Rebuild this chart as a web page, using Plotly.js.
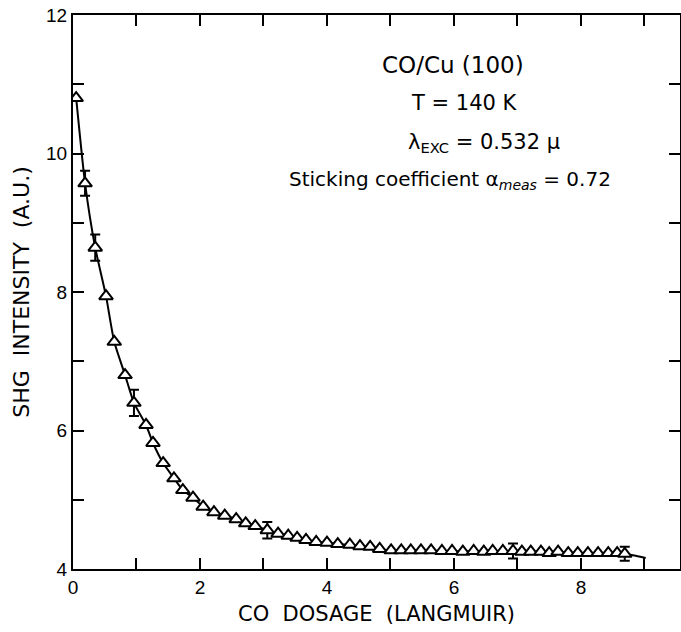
<!DOCTYPE html>
<html>
<head>
<meta charset="utf-8">
<script src="https://cdn.plot.ly/plotly-3.0.1.min.js"></script>
<style>
html,body{margin:0;padding:0;background:#fff;}
#chart{width:681px;height:632px;}
</style>
</head>
<body>
<div id="chart"></div>
<script>
// CO dosage (Langmuir) and SHG intensity (A.U.)
var dosage = [0.05,0.19,0.35,0.52,0.65,0.82,0.96,1.15,1.26,1.42,1.59,1.73,1.89,2.05,2.22,2.39,2.57,2.72,2.87,3.06,3.23,3.39,3.53,3.67,3.83,4.00,4.17,4.36,4.52,4.68,4.83,5.01,5.17,5.32,5.48,5.64,5.81,5.97,6.14,6.31,6.47,6.61,6.77,6.93,7.07,7.21,7.37,7.50,7.64,7.80,7.95,8.11,8.27,8.43,8.57,8.69];
var intensity = [10.80,9.57,8.64,7.94,7.28,6.80,6.40,6.08,5.82,5.53,5.31,5.14,5.03,4.90,4.82,4.77,4.72,4.66,4.62,4.56,4.51,4.48,4.45,4.42,4.39,4.38,4.36,4.35,4.33,4.32,4.29,4.27,4.27,4.27,4.27,4.27,4.26,4.26,4.25,4.26,4.25,4.26,4.26,4.26,4.25,4.25,4.25,4.23,4.25,4.23,4.23,4.23,4.23,4.23,4.23,4.22];

// points carrying error bars
var errDosage = [0.19,0.35,0.96,3.06,6.93,8.69];
var errIntensity = [9.57,8.64,6.40,4.56,4.26,4.22];
var errSize = [0.18,0.19,0.19,0.12,0.11,0.10];

// end of the fitted curve
var fitTailX = [9.02];
var fitTailY = [4.16];

var labelFont = 'DejaVu Sans, Verdana, sans-serif';
var tickFont = 'Liberation Sans, Arial, sans-serif';

var traces = [
  {
    x: dosage.concat(fitTailX),
    y: intensity.concat(fitTailY),
    mode: 'lines',
    line: {color: '#000', width: 2, shape: 'spline', smoothing: 0.6},
    hoverinfo: 'skip'
  },
  {
    x: errDosage,
    y: errIntensity,
    mode: 'markers',
    marker: {size: 2, color: 'rgba(0,0,0,0)'},
    error_y: {type: 'data', array: errSize, visible: true, color: '#000', thickness: 2, width: 5}
  },
  {
    x: dosage,
    y: intensity,
    mode: 'markers',
    marker: {symbol: 'triangle-up', size: 12, color: '#fff', line: {color: '#000', width: 2}}
  }
];

var axisCommon = {
  showgrid: false,
  zeroline: false,
  showline: true,
  linecolor: '#000',
  linewidth: 2,
  mirror: 'ticks',
  ticks: 'inside',
  ticklen: 11,
  tickwidth: 2,
  tickcolor: '#000',
  tickmode: 'linear',
  dtick: 2,
  minor: {ticks: 'inside', dtick: 1, ticklen: 11, tickwidth: 2, tickcolor: '#000', showgrid: false},
  tickfont: {family: tickFont, size: 19, color: '#000'}
};

var layout = {
  width: 681,
  height: 632,
  margin: {l: 73, r: 1, t: 15, b: 63},
  paper_bgcolor: '#fff',
  plot_bgcolor: '#fff',
  showlegend: false,
  xaxis: Object.assign({}, axisCommon, {
    range: [0, 9.56],
    tick0: 0,
    title: {text: 'CO  DOSAGE  (LANGMUIR)', font: {family: labelFont, size: 21, color: '#000'}, standoff: 10}
  }),
  yaxis: Object.assign({}, axisCommon, {
    range: [4, 12],
    tick0: 4,
    title: {text: 'SHG  INTENSITY  (A.U.)', font: {family: labelFont, size: 22, color: '#000'}, standoff: 10}
  }),
  annotations: [
    {x: 5.98, y: 11.28, xref: 'x', yref: 'y', text: 'CO/Cu (100)', showarrow: false, font: {family: labelFont, size: 23, color: '#000'}},
    {x: 6.17, y: 10.73, xref: 'x', yref: 'y', text: 'T = 140 K', showarrow: false, font: {family: labelFont, size: 21, color: '#000'}},
    {x: 6.47, y: 10.15, xref: 'x', yref: 'y', text: 'λ<sub>EXC</sub> = 0.532 μ', showarrow: false, font: {family: labelFont, size: 21, color: '#000'}},
    {x: 5.94, y: 9.62, xref: 'x', yref: 'y', text: 'Sticking coefficient α<sub><i>meas</i></sub> = 0.72', showarrow: false, font: {family: labelFont, size: 20, color: '#000'}}
  ]
};

Plotly.newPlot('chart', traces, layout, {displayModeBar: false, staticPlot: true});
</script>
</body>
</html>
